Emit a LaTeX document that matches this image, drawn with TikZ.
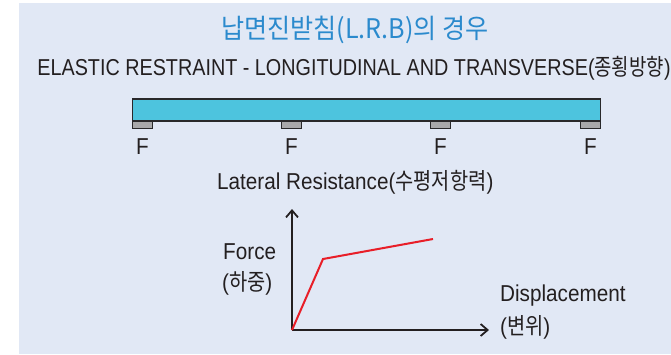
\documentclass[tikz,border=0pt]{standalone}
\usepackage{fontspec}
\usetikzlibrary{arrows.meta}
\newfontfamily\lfsub[FakeStretch=0.86]{Liberation Sans}
\newfontfamily\lfgr[FakeStretch=0.9]{Liberation Sans}
\newfontfamily\kfsub[FakeStretch=0.82]{Noto Sans CJK KR}
\newfontfamily\kfgr[FakeStretch=0.86]{Noto Sans CJK KR}
\newfontfamily\tfont[FakeStretch=0.93]{Noto Sans CJK KR}
\definecolor{bg}{RGB}{225,232,245}
\definecolor{beamc}{RGB}{77,196,222}
\definecolor{edge}{RGB}{40,40,42}
\definecolor{padc}{RGB}{168,168,170}
\definecolor{titlec}{RGB}{43,138,205}
\definecolor{txtc}{RGB}{35,31,32}
\definecolor{redc}{RGB}{232,30,40}
\tikzset{
  txt/.style={inner sep=0pt, text=txtc, font=\fontsize{23}{25}\selectfont\lfgr},
  subtxt/.style={inner sep=0pt, text=txtc, font=\fontsize{23}{25}\selectfont\lfsub},
  beamnode/.style={draw=edge, line width=1.6pt, fill=beamc, inner sep=0pt, minimum width=468pt, minimum height=22pt},
  padnode/.style={draw=edge, line width=1.3pt, fill=padc, inner sep=0pt, minimum width=20pt, minimum height=8pt, anchor=north},
  axisline/.style={draw=txtc, line width=1.8pt, -{Straight Barb[length=7pt,width=12pt,line width=1.8pt]}},
  curve/.style={draw=redc, line width=2pt, line join=miter}
}
\begin{document}
\begin{tikzpicture}[x=1pt,y=-1pt]
\useasboundingbox (0,0) rectangle (671,354);
\fill[bg] (19,3) rectangle (671,354);
% title
\node[inner sep=0pt, text=titlec, font=\fontsize{27}{29}\selectfont\tfont] (title) at (355,30) {납면진받침(L.R.B)의 경우};
\node[subtxt] (sub) at (354,68) {ELASTIC RESTRAINT - LONGITUDINAL AND TRANSVERSE({\kfsub 종횡방향})};
% beam and bearings
\node[padnode] (p1) at (142.5,120) {};
\node[padnode] (p2) at (291.5,120) {};
\node[padnode] (p3) at (440.5,120) {};
\node[padnode] (p4) at (590.5,120) {};
\node[beamnode] (beam) at (366.5,110) {};
\node[txt] (f1) at (p1.south |- 0,147) {F};
\node[txt] (f2) at (p2.south |- 0,147) {F};
\node[txt] (f3) at (p3.south |- 0,147) {F};
\node[txt] (f4) at (p4.south |- 0,147) {F};
% graph
\node[txt, anchor=west] (lat) at (217,182) {Lateral Resistance({\kfgr 수평저항력})};
\coordinate (O) at (292,330);
\coordinate (Y) at (292,209);
\coordinate (X) at (489,330);
\coordinate (K) at (323,259);
\coordinate (E) at (433,239);
\draw[axisline] (O) -- (Y);
\draw[axisline] (O) -- (X);
\draw[curve] (O) -- (K) -- (E);
\node[txt, anchor=west] (force) at (223,252) {Force};
\node[txt, anchor=west] (forcek) at (222,283) {({\kfgr 하중})};
\node[txt, anchor=west] (disp) at (500,296) {Displacement};
\node[txt, anchor=west] (dispk) at (500,327) {({\kfgr 변위})};
\end{tikzpicture}
\end{document}
